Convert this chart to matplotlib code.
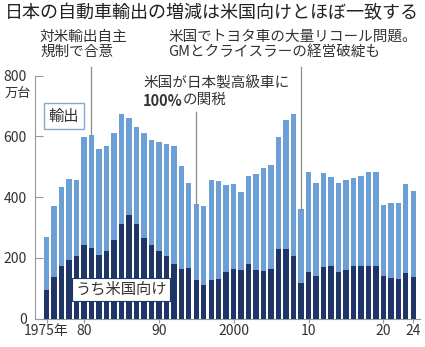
import matplotlib.pyplot as plt

plt.rcParams['font.family'] = ['Noto Sans CJK JP', 'DejaVu Sans']

years = list(range(1975, 2025))
total = [268, 371, 435, 460, 456, 597, 605, 559, 567, 611,
         673, 661, 630, 610, 588, 583, 575, 567, 502, 446,
         379, 371, 455, 453, 441, 445, 417, 470, 476, 496,
         505, 597, 655, 673, 362, 484, 446, 480, 467, 447,
         458, 463, 471, 482, 482, 374, 382, 381, 442, 421]
usa = [93, 137, 172, 192, 205, 242, 233, 210, 223, 259,
       313, 343, 311, 266, 243, 223, 208, 179, 164, 166,
       126, 110, 129, 131, 154, 164, 160, 180, 159, 157,
       165, 229, 230, 206, 117, 154, 142, 171, 173, 154,
       160, 174, 175, 174, 173, 139, 133, 131, 151, 138]
tick_years = [1975, 1980, 1990, 2000, 2010, 2020, 2024]
tick_labels = ['1975年', '80', '90', '2000', '10', '20', '24']

light = '#6c9fd5'
navy = '#1f3566'
txt = '#333333'
grey = '#999999'

W, H = 425, 347
fig = plt.figure(figsize=(W / 100, H / 100), dpi=100)
ax = fig.add_axes([35 / W, (H - 318.7) / H, 385 / W, 243 / H])

ax.bar(years, total, width=0.72, color=light, zorder=2)
ax.bar(years, usa, width=0.72, color=navy, zorder=3)

ax.set_xlim(1973.45, 2024.9)
ax.set_ylim(0, 800)
ax.set_yticks([0, 200, 400, 600, 800])
ax.set_xticks(tick_years)
ax.set_xticklabels(tick_labels)
ax.tick_params(axis='y', direction='in', length=6, color=grey, labelsize=10,
               labelcolor=txt, pad=6)
ax.tick_params(axis='x', direction='out', length=3, color=grey, labelsize=10,
               labelcolor=txt, pad=1)
for s in ['top', 'right']:
    ax.spines[s].set_visible(False)
for s in ['left', 'bottom']:
    ax.spines[s].set_color(grey)
    ax.spines[s].set_linewidth(0.8)

# annotation leader lines
def lead(year, top):
    i = years.index(year)
    ax.plot([year, year], [total[i], top], color='#8a8a8a', lw=0.9,
            clip_on=False, zorder=4)

lead(1981, 830)
lead(2009, 830)
lead(1995, 680)

fig.text(5 / W, 1 - 4 / H, '日本の自動車輸出の増減は米国向けとほぼ一致する',
         fontsize=13, color='#222222', va='top', ha='left')
fig.text(40 / W, 1 - 30 / H, '対米輸出自主\n規制で合意', fontsize=10.5,
         color=txt, va='top', ha='left', linespacing=1.05)
fig.text(168 / W, 1 - 30 / H, '米国でトヨタ車の大量リコール問題。\nGMとクライスラーの経営破綻も',
         fontsize=10.5, color=txt, va='top', ha='left', linespacing=1.05)
fig.text(143 / W, 1 - 76 / H, '米国が日本製高級車に', fontsize=10.5,
         color=txt, va='top', ha='left')
t = fig.text(143 / W, 1 - 93 / H, '100%', fontsize=10.5, color=txt,
             va='top', ha='left', fontweight='bold')
fig.text(183 / W, 1 - 93 / H, 'の関税', fontsize=10.5, color=txt,
         va='top', ha='left')
fig.text(5 / W, 1 - 87 / H, '万台', fontsize=9.5, color=txt, va='top', ha='left')

fig.text(64 / W, 1 - 116 / H, '輸出', fontsize=11, color=txt, va='center',
         ha='center', zorder=5,
         bbox=dict(boxstyle='square,pad=0.3', fc='white', ec='#8aa6cf', lw=1))
fig.text(121 / W, 1 - 289.5 / H, 'うち米国向け', fontsize=11, color=txt,
         va='center', ha='center', zorder=5,
         bbox=dict(boxstyle='square,pad=0.2', fc='white', ec=navy, lw=0.8))

fig.savefig('out.png', dpi=100)
